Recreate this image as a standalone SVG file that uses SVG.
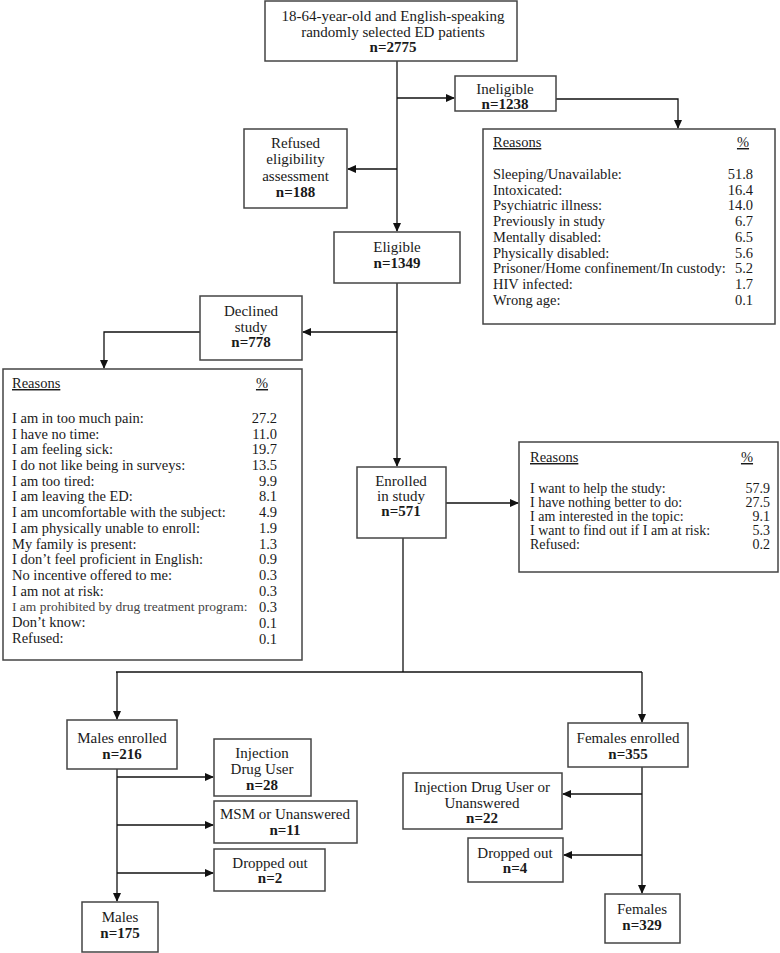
<svg xmlns="http://www.w3.org/2000/svg" width="780" height="953" viewBox="0 0 780 953">
<defs>
<marker id="ah" markerWidth="9" markerHeight="8" refX="8" refY="4" orient="auto" markerUnits="userSpaceOnUse">
<path d="M0,0 L9,4 L0,8 z" fill="#111"/>
</marker>
<style>
.box{fill:#fff;stroke:#444;stroke-width:1.5}
.t{font-family:"Liberation Serif","Times New Roman",serif;font-size:15px;fill:#1a1a1a;text-anchor:middle}
.b{font-weight:bold}
.l{font-family:"Liberation Serif","Times New Roman",serif;font-size:14.5px;fill:#1a1a1a}
.s{font-size:13.5px}
.e{font-size:14px}
.r{text-anchor:end}
.m{text-anchor:middle}
.u{text-decoration:underline}
.c{fill:none;stroke:#111;stroke-width:1.3}
</style>
</defs>
<g id="connectors">
<path class="c" d="M397,61 V231" marker-end="url(#ah)"/>
<path class="c" d="M397,98 H454" marker-end="url(#ah)"/>
<path class="c" d="M556,99 H678 V128" marker-end="url(#ah)"/>
<path class="c" d="M397,169 H348" marker-end="url(#ah)"/>
<path class="c" d="M397,283 V466" marker-end="url(#ah)"/>
<path class="c" d="M397,332 H303" marker-end="url(#ah)"/>
<path class="c" d="M200,332 H104 V368" marker-end="url(#ah)"/>
<path class="c" d="M446,503 H518" marker-end="url(#ah)"/>
<path class="c" d="M403,538 V672"/>
<path class="c" d="M116,672 H642"/>
<path class="c" d="M117,672 V719" marker-end="url(#ah)"/>
<path class="c" d="M642,672 V722" marker-end="url(#ah)"/>
<path class="c" d="M117,769 V901" marker-end="url(#ah)"/>
<path class="c" d="M117,777 H213" marker-end="url(#ah)"/>
<path class="c" d="M117,825 H213" marker-end="url(#ah)"/>
<path class="c" d="M117,873 H213" marker-end="url(#ah)"/>
<path class="c" d="M642,767 V893" marker-end="url(#ah)"/>
<path class="c" d="M642,794 H563" marker-end="url(#ah)"/>
<path class="c" d="M642,855 H564" marker-end="url(#ah)"/>
</g>
<g id="top">
<rect class="box" x="265" y="1" width="252" height="60"/>
<text class="t" x="393" y="21">18-64-year-old and English-speaking</text>
<text class="t" x="393" y="37">randomly selected ED patients</text>
<text class="t b" x="393" y="52">n=2775</text>
</g>
<g id="ineligible">
<rect class="box" x="455" y="76" width="101" height="35"/>
<text class="t" x="505" y="94">Ineligible</text>
<text class="t b" x="505" y="109">n=1238</text>
</g>
<g id="ineligible-reasons">
<rect class="box" x="483" y="129" width="292" height="195"/>
<text class="l u" x="493" y="147">Reasons</text>
<text class="l u m" x="743" y="147">%</text>
<text class="l" x="493" y="179">Sleeping/Unavailable:</text><text class="l r" x="753" y="179">51.8</text>
<text class="l" x="493" y="195">Intoxicated:</text><text class="l r" x="753" y="195">16.4</text>
<text class="l" x="493" y="210">Psychiatric illness:</text><text class="l r" x="753" y="210">14.0</text>
<text class="l" x="493" y="226">Previously in study</text><text class="l r" x="753" y="226">6.7</text>
<text class="l" x="493" y="242">Mentally disabled:</text><text class="l r" x="753" y="242">6.5</text>
<text class="l" x="493" y="258">Physically disabled:</text><text class="l r" x="753" y="258">5.6</text>
<text class="l" x="493" y="273">Prisoner/Home confinement/In custody:</text><text class="l r" x="753" y="273">5.2</text>
<text class="l" x="493" y="289">HIV infected:</text><text class="l r" x="753" y="289">1.7</text>
<text class="l" x="493" y="305">Wrong age:</text><text class="l r" x="753" y="305">0.1</text>
</g>
<g id="refused">
<rect class="box" x="244" y="129" width="103" height="79"/>
<text class="t" x="295.5" y="148">Refused</text>
<text class="t" x="295.5" y="164">eligibility</text>
<text class="t" x="295.5" y="181">assessment</text>
<text class="t b" x="295.5" y="197">n=188</text>
</g>
<g id="eligible">
<rect class="box" x="334" y="232" width="126" height="51"/>
<text class="t" x="397" y="252">Eligible</text>
<text class="t b" x="397" y="268">n=1349</text>
</g>
<g id="declined">
<rect class="box" x="200" y="296" width="102" height="64"/>
<text class="t" x="251" y="316">Declined</text>
<text class="t" x="251" y="332">study</text>
<text class="t b" x="251" y="347">n=778</text>
</g>
<g id="declined-reasons">
<rect class="box" x="3" y="369" width="299" height="291"/>
<text class="l u" x="12" y="388">Reasons</text>
<text class="l u m" x="262" y="388">%</text>
<text class="l" x="12" y="423">I am in too much pain:</text><text class="l r" x="277" y="423">27.2</text>
<text class="l" x="12" y="439">I have no time:</text><text class="l r" x="277" y="439">11.0</text>
<text class="l" x="12" y="454">I am feeling sick:</text><text class="l r" x="277" y="454">19.7</text>
<text class="l" x="12" y="470">I do not like being in surveys:</text><text class="l r" x="277" y="470">13.5</text>
<text class="l" x="12" y="486">I am too tired:</text><text class="l r" x="277" y="486">9.9</text>
<text class="l" x="12" y="501">I am leaving the ED:</text><text class="l r" x="277" y="501">8.1</text>
<text class="l" x="12" y="517">I am uncomfortable with the subject:</text><text class="l r" x="277" y="517">4.9</text>
<text class="l" x="12" y="533">I am physically unable to enroll:</text><text class="l r" x="277" y="533">1.9</text>
<text class="l" x="12" y="549">My family is present:</text><text class="l r" x="277" y="549">1.3</text>
<text class="l" x="12" y="564">I don’t feel proficient in English:</text><text class="l r" x="277" y="564">0.9</text>
<text class="l" x="12" y="580">No incentive offered to me:</text><text class="l r" x="277" y="580">0.3</text>
<text class="l" x="12" y="596">I am not at risk:</text><text class="l r" x="277" y="596">0.3</text>
<text class="l s" x="12" y="611" style="fill:#444">I am prohibited by drug treatment program:</text><text class="l r" x="277" y="612">0.3</text>
<text class="l" x="12" y="627">Don’t know:</text><text class="l r" x="277" y="628">0.1</text>
<text class="l" x="12" y="643">Refused:</text><text class="l r" x="277" y="644">0.1</text>
</g>
<g id="enrolled">
<rect class="box" x="357" y="467" width="89" height="71"/>
<text class="t" x="401" y="486">Enrolled</text>
<text class="t" x="401" y="501">in study</text>
<text class="t b" x="401" y="516">n=571</text>
</g>
<g id="enrolled-reasons">
<rect class="box" x="519" y="442" width="259" height="130"/>
<text class="l u" x="530" y="462">Reasons</text>
<text class="l u m" x="747" y="462">%</text>
<text class="l e" x="530" y="493">I want to help the study:</text><text class="l e r" x="770" y="493">57.9</text>
<text class="l e" x="530" y="507">I have nothing better to do:</text><text class="l e r" x="770" y="507">27.5</text>
<text class="l e" x="530" y="521">I am interested in the topic:</text><text class="l e r" x="770" y="521">9.1</text>
<text class="l e" x="530" y="535">I want to find out if I am at risk:</text><text class="l e r" x="770" y="535">5.3</text>
<text class="l e" x="530" y="549">Refused:</text><text class="l e r" x="770" y="549">0.2</text>
</g>
<g id="males-enrolled">
<rect class="box" x="67" y="720" width="110" height="49"/>
<text class="t" x="122" y="743">Males enrolled</text>
<text class="t b" x="122" y="759">n=216</text>
</g>
<g id="male-idu">
<rect class="box" x="214" y="739" width="97" height="57"/>
<text class="t" x="262" y="758">Injection</text>
<text class="t" x="262" y="774">Drug User</text>
<text class="t b" x="262" y="790">n=28</text>
</g>
<g id="male-msm">
<rect class="box" x="214" y="801" width="143" height="42"/>
<text class="t" x="285" y="819">MSM or Unanswered</text>
<text class="t b" x="285" y="835">n=11</text>
</g>
<g id="male-dropped">
<rect class="box" x="214" y="849" width="111" height="42"/>
<text class="t" x="270" y="868">Dropped out</text>
<text class="t b" x="270" y="883">n=2</text>
</g>
<g id="males">
<rect class="box" x="82" y="902" width="76" height="50"/>
<text class="t" x="120" y="922">Males</text>
<text class="t b" x="120" y="938">n=175</text>
</g>
<g id="females-enrolled">
<rect class="box" x="568" y="723" width="120" height="44"/>
<text class="t" x="628" y="743">Females enrolled</text>
<text class="t b" x="628" y="759">n=355</text>
</g>
<g id="female-idu">
<rect class="box" x="403" y="773" width="159" height="56"/>
<text class="t" x="482" y="792">Injection Drug User or</text>
<text class="t" x="482" y="808">Unanswered</text>
<text class="t b" x="482" y="823">n=22</text>
</g>
<g id="female-dropped">
<rect class="box" x="468" y="838" width="95" height="44"/>
<text class="t" x="515" y="858">Dropped out</text>
<text class="t b" x="515" y="873">n=4</text>
</g>
<g id="females">
<rect class="box" x="605" y="894" width="75" height="49"/>
<text class="t" x="642" y="914">Females</text>
<text class="t b" x="642" y="930">n=329</text>
</g>
</svg>
